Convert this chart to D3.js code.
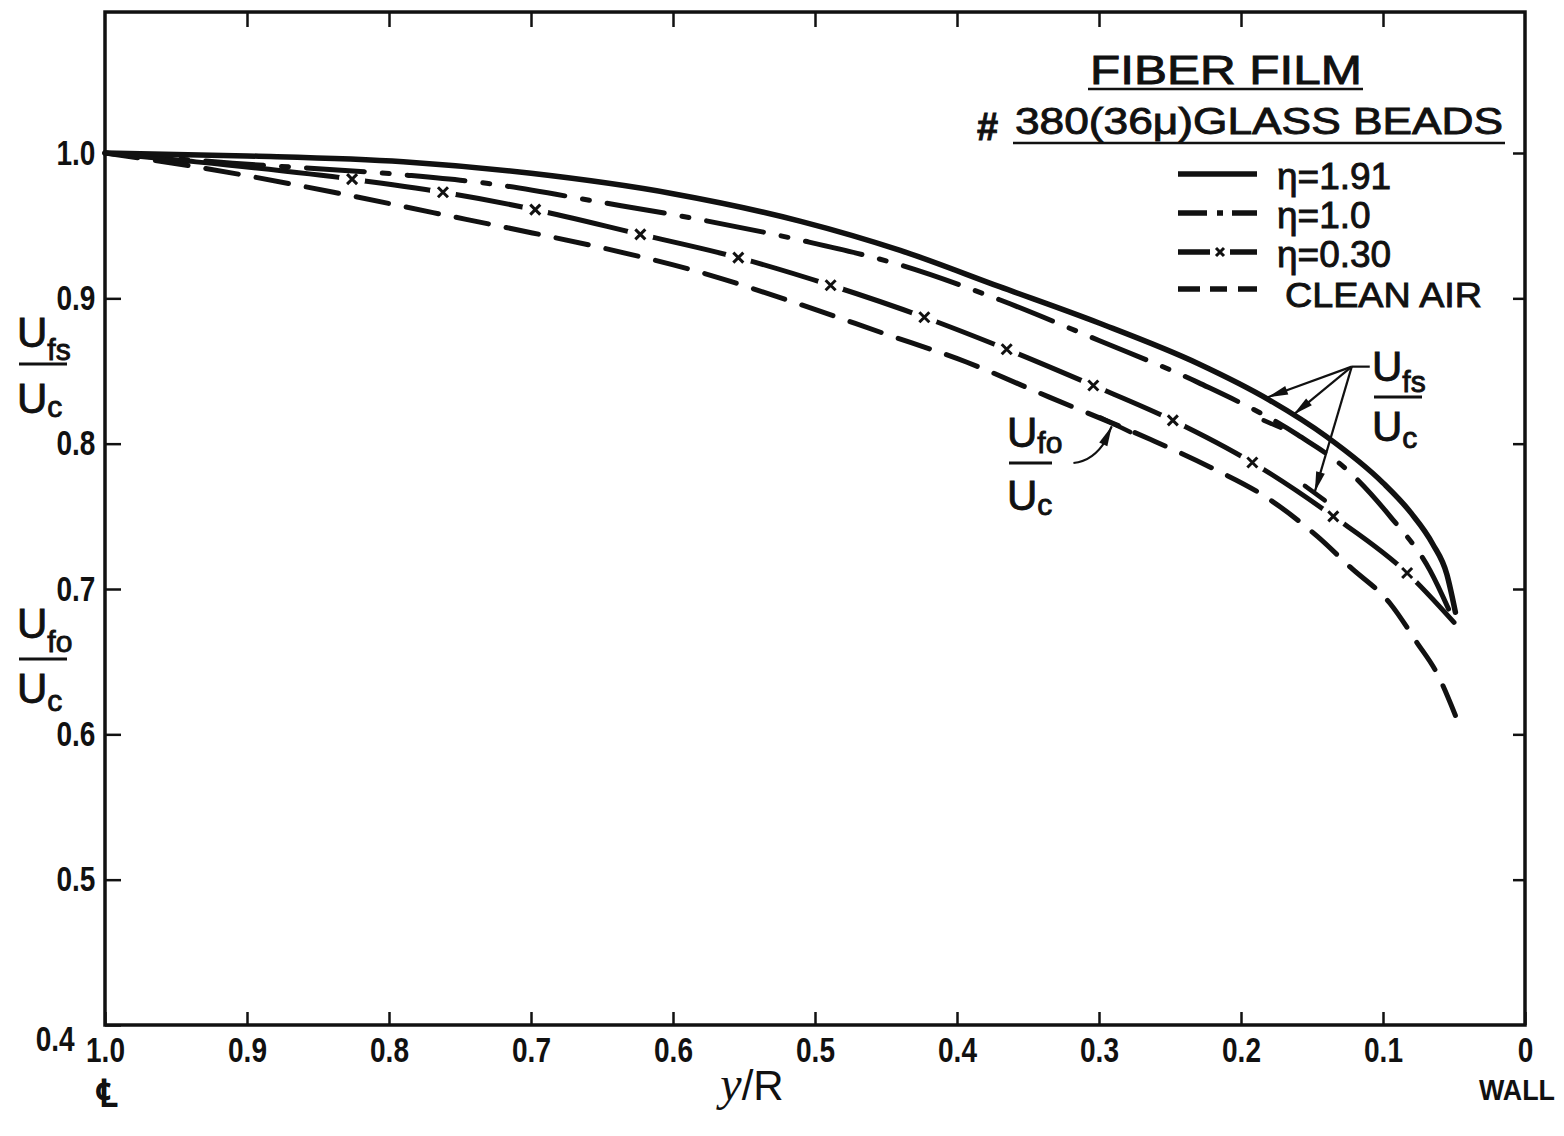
<!DOCTYPE html>
<html>
<head>
<meta charset="utf-8">
<script src="https://cdn.jsdelivr.net/npm/d3@7"></script>
<style>
  body { margin: 0; background: #fff; }
  svg { display: block; }
  text { font-family: "Liberation Sans", Arial, sans-serif; fill: #111; }
  text.ink { stroke: #111; stroke-width: 0.9; }
</style>
</head>
<body>
<svg id="chart" width="1564" height="1136"></svg>
<script>
// ---- axis ticks ----
const xTicks = [1.0, 0.9, 0.8, 0.7, 0.6, 0.5, 0.4, 0.3, 0.2, 0.1, 0.0];
const xTickLabels = ["1.0", "0.9", "0.8", "0.7", "0.6", "0.5", "0.4", "0.3", "0.2", "0.1", "0"];
const yTicks = [0.4, 0.5, 0.6, 0.7, 0.8, 0.9, 1.0];
const yTickLabels = ["0.4", "0.5", "0.6", "0.7", "0.8", "0.9", "1.0"];

// ---- velocity profiles: [y/R, U/Uc] ----
const eta191 = [[1.0,1.0],[0.9,0.998],[0.79,0.994],[0.70,0.986],[0.60,0.972],[0.51,0.953],[0.44,0.933],
  [0.37,0.908],[0.30,0.883],[0.23,0.855],[0.18,0.830],[0.14,0.805],[0.10,0.773],[0.08,0.752],
  [0.065,0.731],[0.055,0.710],[0.049,0.684]];
const eta10 = [[1.0,1.0],[0.91,0.993],[0.79,0.985],[0.73,0.979],[0.65,0.966],[0.58,0.954],[0.51,0.940],
  [0.44,0.923],[0.37,0.899],[0.30,0.871],[0.23,0.842],[0.16,0.806],[0.123,0.780],[0.095,0.750],
  [0.067,0.713],[0.051,0.680]];
const eta030 = [[1.0,1.0],[0.947,0.995],[0.826,0.982],[0.762,0.973],[0.697,0.961],[0.623,0.944],
  [0.554,0.928],[0.489,0.909],[0.423,0.887],[0.365,0.865],[0.304,0.840],[0.248,0.816],[0.192,0.787],
  [0.135,0.750],[0.083,0.711],[0.050,0.677]];
const cleanAir = [[1.0,1.0],[0.933,0.990],[0.839,0.973],[0.769,0.959],[0.699,0.945],[0.651,0.935],
  [0.581,0.918],[0.511,0.896],[0.452,0.876],[0.393,0.856],[0.335,0.832],[0.264,0.803],[0.222,0.784],
  [0.182,0.763],[0.146,0.736],[0.123,0.715],[0.095,0.690],[0.076,0.663],[0.062,0.642],[0.049,0.613]];

const legendLabels = ["\u03B7=1.91", "\u03B7=1.0", "\u03B7=0.30", "CLEAN AIR"];

const INK = "#111";
const svg = d3.select("#chart");
svg.append("rect").attr("width", 1564).attr("height", 1136).attr("fill", "#fff");

const x = d3.scaleLinear().domain([1, 0]).range([105, 1525]);
const y = d3.scaleLinear().domain([0.4, 1.0]).range([1025, 153]);
const yMax = 1.097;

// ---- frame ----
svg.append("rect")
  .attr("x", x(1)).attr("y", y(yMax))
  .attr("width", x(0) - x(1)).attr("height", y(0.4) - y(yMax))
  .attr("fill", "none").attr("stroke", INK).attr("stroke-width", 3.5);

function styleAxis(g) {
  g.select(".domain").remove();
  g.selectAll(".tick line").attr("stroke", INK).attr("stroke-width", 2.5);
}

// bottom axis
const gx = svg.append("g").attr("transform", `translate(0,${y(0.4)})`)
  .call(d3.axisBottom(x).tickValues(xTicks).tickFormat((d, i) => xTickLabels[i])
    .tickSizeInner(-13).tickSizeOuter(0).tickPadding(12));
styleAxis(gx);
gx.selectAll(".tick text").attr("font-size", 35).attr("font-weight", "bold")
  .attr("fill", INK).attr("transform", "scale(0.8,1)");

// top ticks
const gt = svg.append("g").attr("transform", `translate(0,${y(yMax)})`)
  .call(d3.axisTop(x).tickValues(xTicks.slice(1, -1)).tickFormat("").tickSizeInner(-15).tickSizeOuter(0));
styleAxis(gt);

// left axis
const gy = svg.append("g").attr("transform", `translate(${x(1)},0)`)
  .call(d3.axisLeft(y).tickValues(yTicks).tickFormat((d, i) => yTickLabels[i])
    .tickSizeInner(-16).tickSizeOuter(0).tickPadding(12));
styleAxis(gy);
gy.selectAll(".tick text").attr("font-size", 35).attr("font-weight", "bold")
  .attr("fill", INK).attr("transform", "scale(0.8,1)");
gy.selectAll(".tick").filter(d => d === 0.4).select("text").attr("x", -38).attr("y", 14);

// right ticks
const gr = svg.append("g").attr("transform", `translate(${x(0)},0)`)
  .call(d3.axisRight(y).tickValues(yTicks.slice(1)).tickFormat("").tickSizeInner(-12).tickSizeOuter(0));
styleAxis(gr);

// ---- curves ----
const line = d3.line().x(d => x(d[0])).y(d => y(d[1])).curve(d3.curveMonotoneX);
const defs = svg.append("defs");

// gaps in the η=0.30 line where the × marks sit
const marks = eta030.filter(d => d[0] < 0.9 && d[0] > 0.06);
const mask = defs.append("mask").attr("id", "xgap").attr("maskUnits", "userSpaceOnUse")
  .attr("x", 0).attr("y", 0).attr("width", 1564).attr("height", 1136);
mask.append("rect").attr("width", 1564).attr("height", 1136).attr("fill", "#fff");
mask.selectAll("circle").data(marks).join("circle")
  .attr("cx", d => x(d[0])).attr("cy", d => y(d[1])).attr("r", 13).attr("fill", "#000");

const curves = svg.append("g").attr("fill", "none").attr("stroke", INK)
  .attr("stroke-width", 5).attr("stroke-linecap", "round");
curves.append("path").attr("d", line(cleanAir)).attr("stroke-dasharray", "33,18");
curves.append("path").attr("d", line(eta030)).attr("mask", "url(#xgap)");
curves.append("path").attr("d", line(eta10)).attr("stroke-dasharray", "58,18,7,18");
curves.append("path").attr("d", line(eta191)).attr("stroke-width", 5.5);

const xMark = "M-5,-5L5,5M-5,5L5,-5";
svg.append("g").selectAll("path").data(marks).join("path")
  .attr("d", xMark).attr("transform", d => `translate(${x(d[0])},${y(d[1])})`)
  .attr("stroke", INK).attr("stroke-width", 3).attr("fill", "none");

// ---- legend ----
const lg = svg.append("g");
lg.append("text").attr("class", "ink").attr("x", 1090).attr("y", 84).attr("font-size", 40)
  .attr("textLength", 272).attr("lengthAdjust", "spacingAndGlyphs").text("FIBER FILM");
lg.append("line").attr("x1", 1088).attr("x2", 1363).attr("y1", 89).attr("y2", 89)
  .attr("stroke", INK).attr("stroke-width", 2.5);
lg.append("text").attr("class", "ink").attr("x", 977).attr("y", 140).attr("font-size", 38)
  .attr("font-weight", "bold").text("#");
lg.append("text").attr("class", "ink").attr("x", 1015).attr("y", 134).attr("font-size", 37)
  .attr("textLength", 488).attr("lengthAdjust", "spacingAndGlyphs").text("380(36\u03BC)GLASS BEADS");
lg.append("line").attr("x1", 1013).attr("x2", 1505).attr("y1", 143).attr("y2", 143)
  .attr("stroke", INK).attr("stroke-width", 2.5);

const rowY = [174, 213, 252, 289];
const sampleDash = [null, "29,10,6,9,25", "32,20,27", "22,10,17,11,19"];
legendLabels.forEach((lab, i) => {
  lg.append("line").attr("x1", 1178).attr("x2", 1257).attr("y1", rowY[i]).attr("y2", rowY[i])
    .attr("stroke", INK).attr("stroke-width", 5.5)
    .attr("stroke-dasharray", sampleDash[i]);
  if (i === 2) {
    lg.append("path").attr("d", "M-4,-4L4,4M-4,4L4,-4")
      .attr("transform", `translate(1220,${rowY[i]})`)
      .attr("stroke", INK).attr("stroke-width", 3);
  }
  const t = lg.append("text").attr("class", "ink").attr("x", i === 3 ? 1285 : 1277)
    .attr("y", rowY[i] + (i === 3 ? 18 : 15))
    .attr("font-size", i === 3 ? 35 : 37).text(lab);
  if (i === 3) t.attr("textLength", 197).attr("lengthAdjust", "spacingAndGlyphs");
});

// ---- fraction labels ----
function fraction(g, left, base, sub, o) {
  const t = g.append("text").attr("class", "ink").attr("x", left).attr("y", base).attr("font-size", 42);
  t.append("tspan").text("U");
  t.append("tspan").attr("font-size", 30).attr("dy", o.subDy).text(sub);
  g.append("line").attr("x1", left + 2).attr("x2", left + o.barW)
    .attr("y1", base + o.barGap).attr("y2", base + o.barGap)
    .attr("stroke", INK).attr("stroke-width", 3);
  const b = g.append("text").attr("class", "ink").attr("x", left).attr("y", base + o.denom).attr("font-size", 42);
  b.append("tspan").text("U");
  b.append("tspan").attr("font-size", 30).attr("dy", o.cDy).text("c");
}
const ann = svg.append("g");
fraction(ann, 17, 347, "fs", {subDy: 13, barGap: 17, barW: 50, denom: 66, cDy: 4});
fraction(ann, 17, 638, "fo", {subDy: 14, barGap: 21, barW: 50, denom: 65, cDy: 8});
fraction(ann, 1372, 381, "fs", {subDy: 11, barGap: 16, barW: 50, denom: 60, cDy: 7});
fraction(ann, 1007, 447, "fo", {subDy: 6, barGap: 16, barW: 45, denom: 63, cDy: 5});

// arrows pointing at the curves
function arrow(g, from, to, bar) {
  const [x0, y0] = from, [x1, y1] = to;
  const ang = Math.atan2(y1 - y0, x1 - x0);
  g.append("line").attr("x1", x0).attr("y1", y0).attr("x2", x1).attr("y2", y1)
    .attr("stroke", INK).attr("stroke-width", 2.2);
  const L = 20, W = 4.5;
  const bx = x1 - L * Math.cos(ang), by = y1 - L * Math.sin(ang);
  const px = -Math.sin(ang) * W, py = Math.cos(ang) * W;
  g.append("path").attr("d", `M${x1},${y1}L${bx + px},${by + py}L${bx - px},${by - py}Z`).attr("fill", INK);
  if (bar) {
    g.append("line").attr("x1", bar[0][0]).attr("y1", bar[0][1]).attr("x2", bar[1][0]).attr("y2", bar[1][1])
      .attr("stroke", INK).attr("stroke-width", 4.5).attr("stroke-linecap", "round");
  }
}
const P = (a, b) => [x(a), y(b)];
const origin = P(0.122, 0.853);
ann.append("line").attr("x1", origin[0]).attr("y1", origin[1]).attr("x2", origin[0] + 18).attr("y2", origin[1])
  .attr("stroke", INK).attr("stroke-width", 2.2);
arrow(ann, origin, P(0.181, 0.832));
arrow(ann, origin, P(0.163, 0.820), [P(0.184, 0.816), P(0.172, 0.811)]);
arrow(ann, origin, P(0.148, 0.767), [P(0.155, 0.771), P(0.141, 0.761)]);

// leader for the clean-air label
const lf = P(0.318, 0.7867), lt = P(0.291, 0.812);
ann.append("path").attr("d", `M${lf[0]},${lf[1]}Q${lf[0] + 20},${lf[1] - 2} ${lt[0] - 6},${lt[1] + 14}`)
  .attr("fill", "none").attr("stroke", INK).attr("stroke-width", 2.2);
arrow(ann, [lt[0] - 8, lt[1] + 17], lt, [P(0.299, 0.818), P(0.278, 0.808)]);

// ---- axis captions ----
svg.append("text").attr("class", "ink").attr("x", 106).attr("y", 1106).attr("text-anchor", "middle")
  .attr("font-size", 37).attr("font-family", "DejaVu Sans").attr("font-weight", "bold").text("\u2104");
const yr = svg.append("text").attr("x", 752).attr("y", 1100).attr("text-anchor", "middle").attr("font-size", 42);
yr.append("tspan").attr("font-family", "Liberation Serif").attr("font-style", "italic").attr("font-size", 48).text("y");
yr.append("tspan").text("/R");
svg.append("text").attr("x", 1517).attr("y", 1100).attr("text-anchor", "middle")
  .attr("font-size", 30).attr("font-weight", "bold")
  .attr("textLength", 76).attr("lengthAdjust", "spacingAndGlyphs").text("WALL");
</script>
</body>
</html>
